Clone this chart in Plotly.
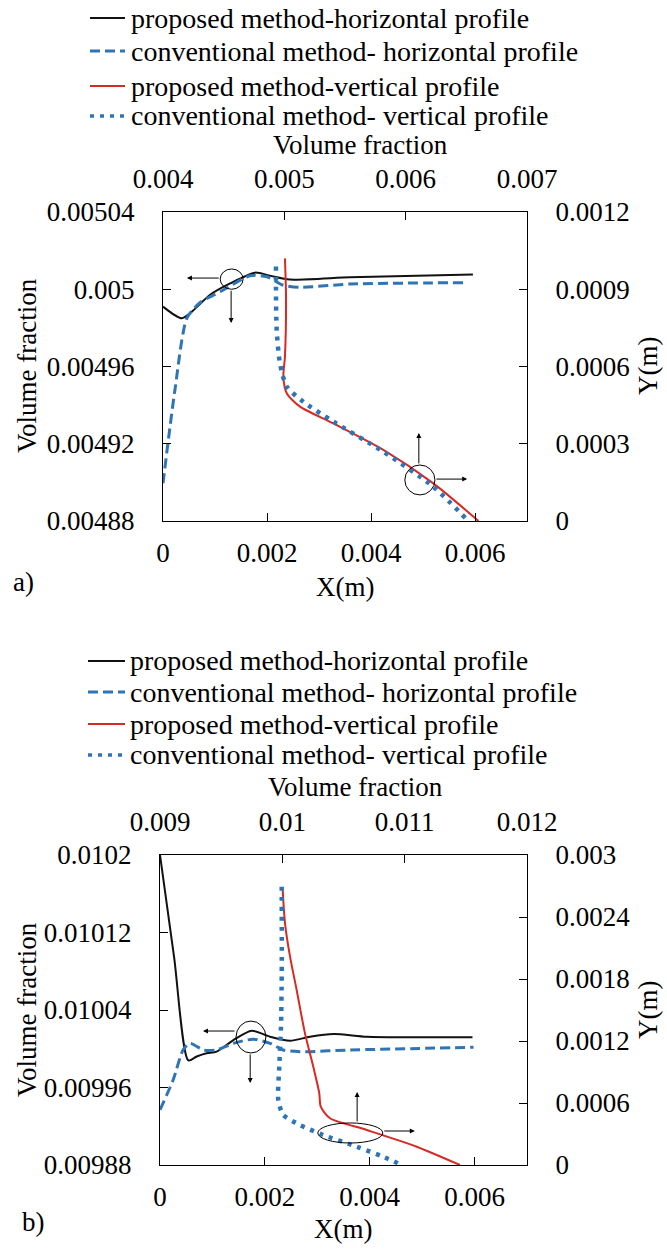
import plotly.graph_objects as go

FONT = "Liberation Serif"
W, H = 667, 1249
BLACK, BLUE, RED = "#111111", "#2E75B6", "#D62A24"

# ---------------- data: panel a ----------------
a_hx_prop = [0, 0.00036, 0.00058, 0.0009, 0.00129, 0.00177, 0.00206, 0.00244, 0.0036, 0.00488, 0.00596]
a_hy_prop = [0.004991, 0.004985, 0.004989, 0.004997, 0.005003, 0.0050086, 0.005007, 0.005005, 0.0050062, 0.005007, 0.0050077]
a_hx_conv = [0, 0.00023, 0.00046, 0.00071, 0.00116, 0.00167, 0.002, 0.0023, 0.00263, 0.0036, 0.00584]
a_hy_conv = [0.0048995, 0.004948, 0.004985, 0.004993, 0.0049996, 0.005007, 0.0050065, 0.0050022, 0.005001, 0.0050027, 0.0050034]
a_vx_prop = [0.005005, 0.005014, 0.005005, 0.004992, 0.00502, 0.005129, 0.005404, 0.005816, 0.006228, 0.0066]
a_vy_prop = [0.00102, 0.000871, 0.000638, 0.00056, 0.000496, 0.000444, 0.000379, 0.000276, 0.000146, 0.0]
a_vx_conv = [0.004931, 0.004931, 0.004937, 0.004964, 0.00502, 0.005156, 0.005404, 0.005816, 0.006228, 0.006516]
a_vy_conv = [0.000988, 0.000897, 0.000742, 0.000612, 0.000522, 0.000463, 0.000386, 0.000269, 0.000133, 0.0]

# ---------------- data: panel b ----------------
b_hx_prop = [0, 0.00027, 0.00054, 0.0007, 0.00089, 0.00108, 0.0014, 0.00175, 0.0021, 0.00248, 0.00286, 0.00331, 0.00394, 0.0049, 0.00596]
b_hy_prop = [0.0102, 0.010094, 0.009988, 0.009992, 0.0099953, 0.009997, 0.010009, 0.0100186, 0.0100124, 0.0100083, 0.0100124, 0.0100152, 0.0100124, 0.0100118, 0.0100118]
b_hx_conv = [0, 0.00025, 0.00044, 0.00057, 0.00083, 0.00108, 0.0014, 0.00178, 0.0021, 0.00235, 0.00267, 0.00362, 0.00598]
b_hy_conv = [0.009937, 0.0099677, 0.0099987, 0.0100056, 0.0099987, 0.0099987, 0.0100056, 0.0100098, 0.0100056, 0.0099987, 0.009997, 0.0099987, 0.0100015]
b_vx_prop = [0.010003, 0.010022, 0.010063, 0.010117, 0.010185, 0.010253, 0.010302, 0.010314, 0.01039, 0.01069, 0.011098, 0.011452]
b_vy_prop = [0.002661, 0.002339, 0.002016, 0.001694, 0.001274, 0.000951, 0.000694, 0.000564, 0.000452, 0.000339, 0.000177, 0.0]
b_vx_conv = [0.009995, 0.009995, 0.009989, 0.009975, 0.009967, 0.010008, 0.010144, 0.010335, 0.010608, 0.010825, 0.010976]
b_vy_conv = [0.002693, 0.001855, 0.001339, 0.000951, 0.000629, 0.000484, 0.000387, 0.00029, 0.000177, 0.00008, 0.0]

# ---------------- ticks ----------------
x_bottom_ticks = [0, 0.002, 0.004, 0.006]
x_bottom_text = ["0", "0.002", "0.004", "0.006"]
a_top_ticks = [0.004, 0.005, 0.006, 0.007]
a_top_text = ["0.004", "0.005", "0.006", "0.007"]
a_left_ticks = [0.00488, 0.00492, 0.00496, 0.005, 0.00504]
a_left_text = ["0.00488", "0.00492", "0.00496", "0.005", "0.00504"]
a_right_ticks = [0, 0.0003, 0.0006, 0.0009, 0.0012]
a_right_text = ["0", "0.0003", "0.0006", "0.0009", "0.0012"]
b_top_ticks = [0.009, 0.01, 0.011, 0.012]
b_top_text = ["0.009", "0.01", "0.011", "0.012"]
b_left_ticks = [0.00988, 0.00996, 0.01004, 0.01012, 0.0102]
b_left_text = ["0.00988", "0.00996", "0.01004", "0.01012", "0.0102"]
b_right_ticks = [0, 0.0006, 0.0012, 0.0018, 0.0024, 0.003]
b_right_text = ["0", "0.0006", "0.0012", "0.0018", "0.0024", "0.003"]

legend_labels = ["proposed method-horizontal profile",
                 "conventional method- horizontal profile",
                 "proposed method-vertical profile",
                 "conventional method- vertical profile"]

STYLES = [dict(color=BLACK, width=2, dash="solid"),
          dict(color=BLUE, width=3, dash="10px,5px"),
          dict(color=RED, width=2, dash="solid"),
          dict(color=BLUE, width=4.5, dash="4px,6px")]

fig = go.Figure()

def add_panel(series, axes):
    for (xs, ys), st, (xa, ya), name in zip(series, STYLES, axes, legend_labels):
        fig.add_trace(go.Scatter(x=xs, y=ys, mode="lines", name=name, xaxis=xa, yaxis=ya,
                                 line=dict(shape="spline", smoothing=0.7, **st),
                                 showlegend=False, hoverinfo="skip"))

add_panel([(a_hx_prop, a_hy_prop), (a_hx_conv, a_hy_conv), (a_vx_prop, a_vy_prop), (a_vx_conv, a_vy_conv)],
          [("x", "y"), ("x", "y"), ("x2", "y2"), ("x2", "y2")])
add_panel([(b_hx_prop, b_hy_prop), (b_hx_conv, b_hy_conv), (b_vx_prop, b_vy_prop), (b_vx_conv, b_vy_conv)],
          [("x3", "y3"), ("x3", "y3"), ("x4", "y4"), ("x4", "y4")])

def px(v):
    return v / W

def py(v):
    return 1 - v / H

def axis(**kw):
    d = dict(showline=True, linecolor="black", linewidth=1, ticks="inside", ticklen=8,
             tickcolor="black", tickwidth=1, showgrid=False, zeroline=False, automargin=False,
             tickmode="array", fixedrange=True,
             tickfont=dict(family=FONT, size=27, color="black"))
    d.update(kw)
    return d

XA = [px(163), px(527)]
YA = [py(521), py(212)]
XB = [px(160), px(527)]
YB = [py(1165), py(855)]

fig.update_layout(
    width=W, height=H, template="none",
    margin=dict(l=0, r=0, t=0, b=0),
    font=dict(family=FONT, color="black"),
    paper_bgcolor="white", plot_bgcolor="white", showlegend=False,
    xaxis=axis(domain=XA, anchor="y", range=[0, 0.007], tickvals=x_bottom_ticks, ticktext=x_bottom_text, ticklabelstandoff=8),
    xaxis2=axis(overlaying="x", anchor="y", side="top", range=[0.004, 0.007], tickvals=a_top_ticks, ticktext=a_top_text, ticklabelstandoff=12),
    yaxis=axis(domain=YA, anchor="x", range=[0.00488, 0.00504], tickvals=a_left_ticks, ticktext=a_left_text, ticklabelstandoff=22),
    yaxis2=axis(overlaying="y", anchor="x", side="right", range=[0, 0.0012], tickvals=a_right_ticks, ticktext=a_right_text, ticklabelstandoff=22),
    xaxis3=axis(domain=XB, anchor="y3", range=[0, 0.007], tickvals=x_bottom_ticks, ticktext=x_bottom_text, ticklabelstandoff=8),
    xaxis4=axis(overlaying="x3", anchor="y3", side="top", range=[0.009, 0.012], tickvals=b_top_ticks, ticktext=b_top_text, ticklabelstandoff=12),
    yaxis3=axis(domain=YB, anchor="x3", range=[0.00988, 0.0102], tickvals=b_left_ticks, ticktext=b_left_text, ticklabelstandoff=22),
    yaxis4=axis(overlaying="y3", anchor="x3", side="right", range=[0, 0.003], tickvals=b_right_ticks, ticktext=b_right_text, ticklabelstandoff=22),
)

ann = []
shapes = []

def text(x, y, s, size=27, angle=0, xanchor="center"):
    ann.append(dict(x=px(x), y=py(y), xref="paper", yref="paper", text=s, showarrow=False,
                    textangle=angle, xanchor=xanchor, yanchor="middle",
                    font=dict(family=FONT, size=size, color="black")))

# legends (manual, to match the compact Excel layout)
def legend(rows, x0, x1, xt):
    for yrow, st, lab in zip(rows, STYLES, legend_labels):
        shapes.append(dict(type="line", xref="paper", yref="paper", x0=px(x0), x1=px(x1),
                           y0=py(yrow), y1=py(yrow),
                           line=dict(color=st["color"], width=min(st["width"], 3.5), dash=st["dash"])))
        text(xt, yrow, lab, size=28, xanchor="left")

legend([18, 51, 86, 116], 90, 125, 129)
legend([661, 692, 724, 755], 88, 125, 128)

# axis titles
text(360, 145, "Volume fraction")
text(27, 366, "Volume fraction", angle=-90)
text(648, 366, "Y(m)", angle=-90)
text(345, 587, "X(m)")
text(24, 582, "a)")
text(355, 787, "Volume fraction")
text(27, 1010, "Volume fraction", angle=-90)
text(648, 1010, "Y(m)", angle=-90)
text(343, 1229, "X(m)")
text(33, 1222, "b)")

# marker circles and arrows
def arrow(xr, yr, x_tail, y_tail, x_head, y_head):
    ann.append(dict(x=x_head, y=y_head, ax=x_tail, ay=y_tail, xref=xr, yref=yr, axref=xr, ayref=yr,
                    text="", showarrow=True, arrowhead=2, arrowsize=1, arrowwidth=1,
                    arrowcolor="black", standoff=0, startstandoff=0))

def ellipse(xr, yr, x0, x1, y0, y1):
    shapes.append(dict(type="circle", xref=xr, yref=yr, x0=x0, x1=x1, y0=y0, y1=y1,
                       line=dict(color="black", width=1)))

ellipse("x", "y", 0.0011, 0.00154, 0.0050, 0.0050105)
arrow("x", "y", 0.0011, 0.0050058, 0.00046, 0.0050058)
arrow("x", "y", 0.00131, 0.0050, 0.00131, 0.0049825)
ellipse("x", "y", 0.00465, 0.00523, 0.0048935, 0.004909)
arrow("x", "y", 0.00492, 0.004909, 0.00492, 0.0049256)
arrow("x", "y", 0.00523, 0.0049017, 0.00585, 0.0049017)

ellipse("x3", "y3", 0.00145, 0.00202, 0.0099956, 0.0100286)
arrow("x3", "y3", 0.00145, 0.0100183, 0.00082, 0.0100183)
arrow("x3", "y3", 0.00172, 0.0099956, 0.00172, 0.0099646)
ellipse("x3", "y3", 0.00301, 0.00425, 0.0099027, 0.0099234)
arrow("x3", "y3", 0.00376, 0.0099234, 0.00376, 0.0099553)
arrow("x3", "y3", 0.00425, 0.0099151, 0.00486, 0.0099151)

fig.update_layout(annotations=ann, shapes=shapes)
fig.write_html("out.html")
